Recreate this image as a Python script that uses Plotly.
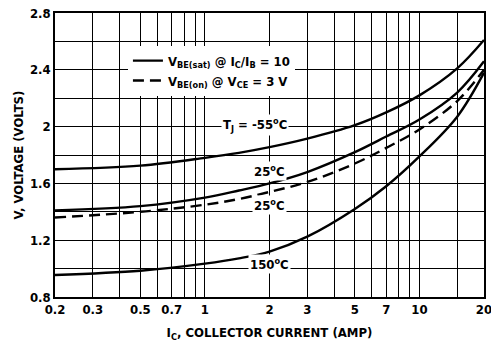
import math
import plotly.graph_objects as go

# ---- data ----
current = [0.2, 0.5, 1, 1.44, 2, 3, 5, 7, 10, 15, 20]
vbe_sat_m55 = [1.70, 1.725, 1.78, 1.815, 1.855, 1.915, 2.01, 2.10, 2.22, 2.41, 2.61]
vbe_sat_25 = [1.41, 1.44, 1.50, 1.55, 1.60, 1.68, 1.82, 1.93, 2.05, 2.24, 2.46]
vbe_on_25 = [1.36, 1.40, 1.45, 1.49, 1.54, 1.61, 1.74, 1.85, 1.98, 2.18, 2.40]
vbe_sat_150 = [0.955, 0.985, 1.035, 1.072, 1.12, 1.225, 1.42, 1.58, 1.79, 2.07, 2.38]

x_tickvals = [0.2, 0.3, 0.5, 0.7, 1, 2, 3, 5, 7, 10, 20]
x_ticktext = ["0.2", "0.3", "0.5", "0.7", "1", "2", "3", "5", "7", "10", "20"]
x_minor = [0.4, 0.6, 0.8, 0.9, 4, 6, 8, 9, 15]
y_tickvals = [0.8, 1.2, 1.6, 2.0, 2.4, 2.8]
y_ticktext = ["0.8", "1.2", "1.6", "2", "2.4", "2.8"]

labels = [
    ("T<sub>J</sub> = -55<sup>o</sup>C", 1.72, 2.01),
    ("25<sup>o</sup>C", 2.0, 1.685),
    ("25<sup>o</sup>C", 2.0, 1.45),
    ("150<sup>o</sup>C", 2.0, 1.035),
]

FONT = "DejaVu Sans Condensed, Liberation Sans Narrow, Arial Narrow, sans-serif"

fig = go.Figure()
line = dict(color="black", width=2.4, shape="spline", smoothing=1.0)
dline = dict(color="black", width=2.4, shape="spline", smoothing=1.0, dash="11px,6px")

fig.add_trace(go.Scatter(x=current, y=vbe_sat_m55, mode="lines", line=line,
                         name="V<sub>BE(sat)</sub> @ I<sub>C</sub>/I<sub>B</sub> = 10", showlegend=True))
fig.add_trace(go.Scatter(x=current, y=vbe_on_25, mode="lines", line=dline,
                         name="V<sub>BE(on)</sub> @ V<sub>CE</sub> = 3 V", showlegend=True))
fig.add_trace(go.Scatter(x=current, y=vbe_sat_25, mode="lines", line=line, showlegend=False))
fig.add_trace(go.Scatter(x=current, y=vbe_sat_150, mode="lines", line=line, showlegend=False))

for text, xv, yv in labels:
    fig.add_annotation(x=math.log10(xv), y=yv, xref="x", yref="y", text=text, showarrow=False,
                       bgcolor="white", font=dict(family=FONT, size=13, color="black", weight="bold"),
                       borderpad=1)

axis_common = dict(showline=True, linecolor="black", linewidth=1.5, mirror=True,
                   showgrid=True, gridcolor="black", gridwidth=1.3, ticks="",
                   zeroline=False, tickfont=dict(family=FONT, size=13, color="black", weight="bold"))

fig.update_xaxes(type="log", range=[math.log10(0.2) - 1e-6, math.log10(20) + 1e-6], tickmode="array",
                 tickvals=x_tickvals, ticktext=x_ticktext, ticklabeloverflow="allow",
                 automargin=False,
                 minor=dict(tickmode="array", tickvals=x_minor, showgrid=True,
                            gridcolor="black", gridwidth=1.3, ticks=""),
                 title=dict(text="I<sub>C</sub>, COLLECTOR CURRENT (AMP)",
                            font=dict(family=FONT, size=13, color="black", weight="bold")),
                 **axis_common)
fig.update_yaxes(range=[0.8, 2.8], tickmode="array", tickvals=y_tickvals, ticktext=y_ticktext,
                 minor=dict(dtick=0.2, showgrid=True, gridcolor="black", gridwidth=1.3, ticks=""),
                 title=dict(text="V, VOLTAGE (VOLTS)",
                            font=dict(family=FONT, size=13, color="black", weight="bold"), standoff=3),
                 **axis_common)

fig.update_layout(
    width=491, height=342,
    margin=dict(l=55, r=5, t=13, b=45),
    paper_bgcolor="white", plot_bgcolor="white",
    font=dict(family=FONT, size=13, color="black"),
    legend=dict(x=0.17, y=0.885, xanchor="left", yanchor="top", bgcolor="white",
                font=dict(family=FONT, size=13, color="black", weight="bold"),
                itemwidth=30, tracegroupgap=0, borderwidth=0),
)

fig.write_html("out.html")
